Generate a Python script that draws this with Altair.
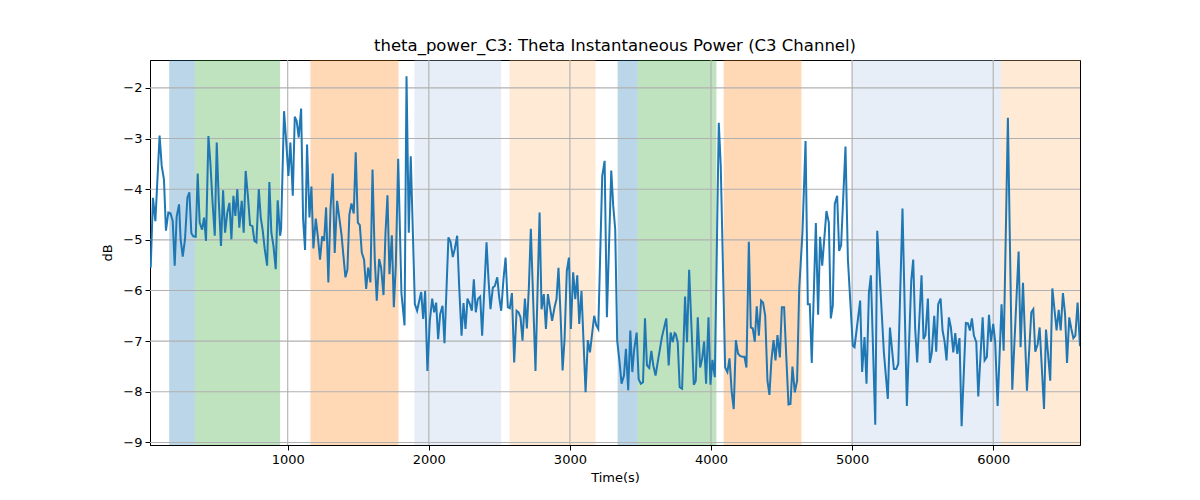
import altair as alt
import pandas as pd

# ---- data ----
times = [29, 45, 62, 92, 107, 123, 137, 154, 170, 185, 199, 213, 230, 241, 256, 272, 289, 303, 317, 331,
         348, 362, 376, 393, 407, 421, 438, 452, 466, 483, 497, 511, 527, 542, 556, 572, 587, 601, 615, 629,
         643, 657, 674, 688, 702, 719, 733, 750, 764, 778, 795, 809, 823, 837, 854, 870, 884, 899, 915, 929,
         946, 953, 974, 988, 1005, 1019, 1036, 1050, 1064, 1078, 1095, 1109, 1123, 1137, 1154, 1168, 1182, 1199, 1213, 1229,
         1244, 1258, 1272, 1288, 1303, 1319, 1333, 1350, 1364, 1381, 1395, 1409, 1423, 1437, 1452, 1468, 1482, 1497, 1511, 1525,
         1541, 1556, 1570, 1586, 1601, 1617, 1631, 1648, 1662, 1679, 1693, 1707, 1721, 1738, 1752, 1766, 1783, 1806, 1828, 1842,
         1858, 1872, 1901, 1917, 1946, 1960, 1974, 1990, 2007, 2024, 2038, 2052, 2066, 2080, 2097, 2111, 2139, 2154, 2170, 2184,
         2201, 2215, 2232, 2246, 2260, 2274, 2291, 2305, 2319, 2333, 2347, 2364, 2378, 2409, 2423, 2437, 2454, 2468, 2485, 2499,
         2513, 2529, 2544, 2560, 2574, 2589, 2605, 2622, 2636, 2650, 2664, 2681, 2695, 2709, 2723, 2756, 2785, 2799, 2815, 2830,
         2844, 2874, 2891, 2905, 2919, 2934, 2948, 2962, 2978, 2993, 3007, 3023, 3038, 3052, 3066, 3082, 3111, 3127, 3142, 3172,
         3187, 3201, 3229, 3246, 3262, 3293, 3307, 3321, 3335, 3352, 3366, 3383, 3397, 3413, 3428, 3442, 3456, 3473, 3487, 3503,
         3518, 3532, 3546, 3562, 3577, 3591, 3607, 3622, 3652, 3683, 3700, 3714, 3728, 3742, 3750, 3764, 3778, 3795, 3816, 3830,
         3845, 3861, 3878, 3892, 3906, 3923, 3937, 3951, 3965, 3982, 3996, 4010, 4027, 4055, 4069, 4100, 4116, 4131, 4147, 4161,
         4176, 4192, 4206, 4223, 4237, 4251, 4268, 4282, 4296, 4310, 4324, 4339, 4355, 4369, 4384, 4400, 4414, 4428, 4443, 4457,
         4471, 4488, 4502, 4518, 4532, 4549, 4563, 4577, 4594, 4610, 4625, 4648, 4670, 4686, 4700, 4714, 4743, 4759, 4773, 4788,
         4818, 4835, 4849, 4863, 4877, 4894, 4908, 4922, 4953, 4970, 5005, 5017, 5057, 5071, 5088, 5102, 5119, 5133, 5164, 5178,
         5225, 5253, 5268, 5296, 5312, 5327, 5357, 5388, 5419, 5433, 5447, 5461, 5492, 5506, 5520, 5537, 5551, 5565, 5582, 5596,
         5610, 5627, 5641, 5655, 5669, 5686, 5700, 5717, 5731, 5745, 5761, 5776, 5806, 5821, 5835, 5849, 5863, 5880, 5894, 5925,
         5939, 5955, 5970, 5984, 6000, 6014, 6031, 6059, 6074, 6104, 6135, 6180, 6194, 6211, 6239, 6270, 6284, 6298, 6315, 6329,
         6360, 6374, 6404, 6419, 6435, 6449, 6464, 6478, 6494, 6509, 6523, 6539, 6553, 6568, 6582, 6598, 6615]

power_db = [-5.55, -4.17, -4.63, -2.94, -3.54, -3.81, -4.82, -4.46, -4.48, -4.63, -5.51, -4.54, -4.30, -4.99, -5.33, -4.99, -4.17, -4.06, -4.87, -4.93,
            -4.94, -3.69, -4.66, -4.80, -4.56, -5.02, -2.95, -3.48, -4.20, -4.92, -3.08, -4.20, -5.12, -4.02, -4.86, -4.46, -4.27, -4.99, -4.13, -4.53,
            -4.00, -4.76, -4.23, -4.86, -3.64, -4.17, -4.71, -4.73, -5.02, -5.05, -4.00, -4.56, -4.82, -5.18, -5.51, -3.86, -4.86, -5.12, -5.58, -4.22,
            -4.92, -4.79, -2.46, -3.01, -3.74, -3.08, -4.13, -2.57, -2.66, -2.98, -2.41, -4.59, -5.20, -3.12, -4.56, -3.95, -5.17, -4.58, -4.92, -5.39,
            -4.93, -5.02, -4.36, -5.84, -4.40, -3.69, -5.26, -4.23, -4.53, -4.89, -5.32, -5.74, -5.59, -4.50, -4.28, -4.48, -3.27, -4.66, -4.71, -5.25,
            -5.39, -5.97, -5.55, -5.84, -3.61, -5.38, -6.20, -5.38, -5.55, -6.09, -4.86, -4.12, -5.68, -4.91, -6.33, -5.51, -3.40, -6.06, -6.69, -1.77,
            -4.86, -3.35, -6.27, -6.40, -6.03, -6.56, -6.01, -7.59, -6.60, -6.16, -6.43, -6.24, -6.96, -6.47, -6.30, -7.04, -4.95, -5.04, -5.34, -5.18,
            -4.92, -5.91, -6.89, -6.25, -6.76, -6.16, -6.27, -6.40, -5.78, -6.43, -6.17, -6.12, -6.89, -5.05, -5.78, -6.37, -5.94, -5.91, -5.74, -6.14,
            -6.40, -5.78, -5.35, -6.33, -6.35, -6.05, -7.42, -6.40, -6.43, -6.53, -6.99, -6.16, -6.75, -5.94, -4.78, -7.59, -4.46, -6.37, -6.07, -6.76,
            -6.07, -6.60, -6.33, -6.17, -5.55, -6.50, -7.58, -6.96, -5.61, -5.35, -6.76, -5.64, -6.17, -5.70, -6.66, -6.01, -8.01, -6.98, -7.22, -6.50,
            -6.69, -6.76, -3.74, -3.44, -6.53, -3.63, -4.33, -4.79, -6.99, -7.42, -7.84, -7.68, -7.15, -7.97, -6.79, -7.61, -7.15, -6.83, -7.75, -7.84,
            -7.81, -6.55, -7.48, -7.53, -7.19, -7.48, -7.68, -7.42, -6.92, -6.55, -7.48, -6.83, -7.02, -6.84, -6.86, -7.02, -7.91, -7.94, -6.12, -7.02,
            -5.59, -6.69, -7.86, -7.78, -6.53, -7.52, -7.35, -7.01, -7.84, -6.53, -7.86, -7.37, -7.71, -2.69, -3.54, -7.52, -7.61, -7.34, -8.01, -8.34,
            -6.98, -7.25, -7.29, -7.31, -7.31, -7.52, -5.04, -6.73, -6.75, -7.01, -6.31, -6.89, -6.20, -6.24, -6.50, -7.78, -8.06, -7.38, -6.98, -7.38,
            -6.88, -7.32, -6.33, -6.33, -7.22, -8.25, -8.24, -7.50, -8.01, -7.78, -5.97, -4.86, -3.05, -6.27, -6.27, -7.43, -4.67, -6.48, -4.94, -5.51,
            -4.43, -4.66, -6.55, -6.30, -4.29, -4.13, -5.22, -5.11, -3.16, -5.38, -7.09, -7.12, -6.20, -7.61, -6.92, -7.84, -6.04, -5.70, -8.65, -4.82,
            -7.22, -8.14, -6.73, -7.55, -7.55, -7.45, -4.38, -8.28, -5.81, -5.39, -6.76, -7.42, -5.70, -6.96, -6.88, -6.16, -7.43, -7.22, -6.50, -7.21,
            -6.27, -6.16, -6.79, -7.00, -7.38, -6.53, -6.73, -7.22, -6.84, -7.25, -6.94, -8.68, -6.64, -6.65, -6.79, -6.55, -6.89, -7.02, -8.09, -6.53,
            -7.38, -7.31, -6.48, -7.01, -6.66, -7.02, -8.28, -6.27, -7.19, -2.59, -7.96, -5.23, -7.12, -5.85, -7.98, -6.43, -6.37, -7.21, -7.06, -6.73,
            -8.34, -6.77, -7.78, -5.96, -6.40, -6.79, -6.38, -6.79, -6.05, -6.46, -7.43, -6.53, -6.75, -6.94, -6.89, -6.24, -7.10]

span_start = [160, 342, 1161, 1898, 2572, 3338, 3480, 4090, 4996, 6055]
span_end = [342, 946, 1785, 2513, 3182, 3480, 4038, 4641, 6055, 6640]
span_color = ["#1f77b4", "#2ca02c", "#ff7f0e", "#aec7e8", "#ffbb78",
              "#1f77b4", "#2ca02c", "#ff7f0e", "#aec7e8", "#ffbb78"]

x_ticks = [1000, 2000, 3000, 4000, 5000, 6000]
y_ticks = [-9, -8, -7, -6, -5, -4, -3, -2]

line_df = pd.DataFrame({"t": times, "v": power_db})
span_df = pd.DataFrame({"s": span_start, "e": span_end, "c": span_color})
xg_df = pd.DataFrame({"x": x_ticks})
yg_df = pd.DataFrame({"y": y_ticks})

FONT = "DejaVu Sans"
x_scale = alt.Scale(domain=[24, 6615], nice=False, zero=False)
y_scale = alt.Scale(domain=[-9.05, -1.45], nice=False, zero=False)

x_axis = alt.Axis(values=x_ticks, format="d", grid=False, title="Time(s)",
                  labelFontSize=13, titleFontSize=13, labelFont=FONT, titleFont=FONT,
                  labelColor="black", titleColor="black", titleFontWeight="normal",
                  tickColor="black", tickSize=5, domainColor="black", labelPadding=3,
                  titlePadding=5)
y_axis = alt.Axis(values=y_ticks, grid=False, title="dB",
                  labelExpr="replace(datum.label, '-', '\u2212')",
                  labelFontSize=13, titleFontSize=13, labelFont=FONT, titleFont=FONT,
                  labelColor="black", titleColor="black", titleFontWeight="normal",
                  tickColor="black", tickSize=5, domainColor="black", labelPadding=3,
                  titlePadding=8)

spans = alt.Chart(span_df).mark_rect(opacity=0.3, clip=True).encode(
    x=alt.X("s:Q", scale=x_scale, axis=x_axis),
    x2="e:Q",
    y=alt.value(0),
    y2=alt.value(385),
    color=alt.Color("c:N", scale=None),
)

xgrid = alt.Chart(xg_df).mark_rule(color="#b0b0b0", strokeWidth=1.1).encode(
    x=alt.X("x:Q", scale=x_scale)
)
ygrid = alt.Chart(yg_df).mark_rule(color="#b0b0b0", strokeWidth=1.1).encode(
    y=alt.Y("y:Q", scale=y_scale, axis=y_axis)
)

line = alt.Chart(line_df).mark_line(color="#1f77b4", strokeWidth=2, clip=True).encode(
    x=alt.X("t:Q", scale=x_scale),
    y=alt.Y("v:Q", scale=y_scale),
)

chart = alt.layer(spans, xgrid, ygrid, line).properties(
    width=930,
    height=385,
    title=alt.TitleParams("theta_power_C3: Theta Instantaneous Power (C3 Channel)",
                          font=FONT, fontSize=16.5, fontWeight="normal", color="black",
                          anchor="middle", offset=5),
    autosize=alt.AutoSizeParams(type="none"),
    padding={"left": 142, "top": 52, "right": 112, "bottom": 47},
).configure_view(stroke="black", strokeWidth=1)

chart.save("out.html", embed_options={"renderer": "svg", "actions": False})
